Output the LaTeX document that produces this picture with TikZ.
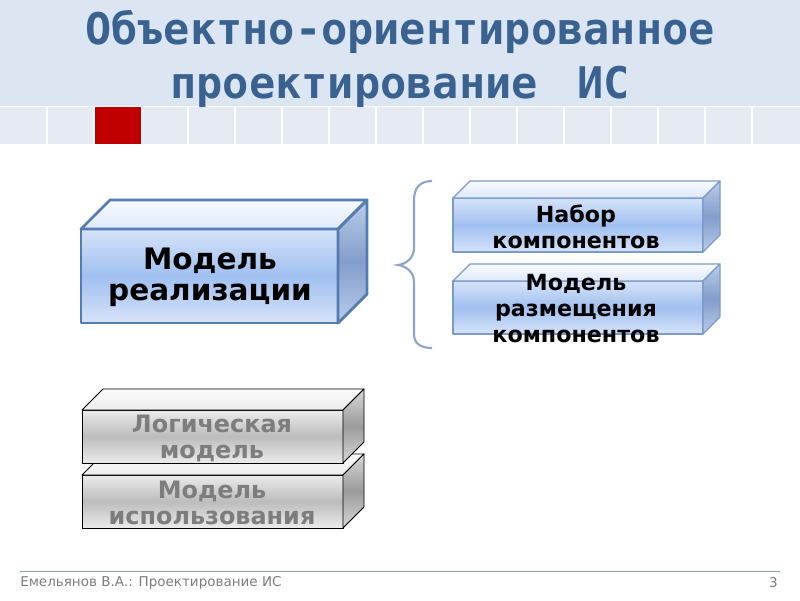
\documentclass[tikz,border=0pt]{standalone}
\usepackage{fontspec}
\setmainfont{DejaVu Sans}
\newfontfamily\zagfont{DejaVu Sans Mono}
\usetikzlibrary{positioning}

\definecolor{zagblue}{RGB}{58,98,145}
\definecolor{shapka}{RGB}{220,230,242}
\definecolor{kletka}{RGB}{230,235,243}
\definecolor{krasny}{RGB}{192,0,0}
\definecolor{ramka}{RGB}{84,124,178}
\definecolor{ramkatonk}{RGB}{125,155,200}
\definecolor{skobka}{RGB}{140,165,200}
\definecolor{bl1}{RGB}{214,227,248}
\definecolor{bl2}{RGB}{160,192,240}
\definecolor{blv}{RGB}{248,251,255}
\definecolor{blv2}{RGB}{222,233,250}
\definecolor{blb1}{RGB}{186,204,234}
\definecolor{blb2}{RGB}{130,158,204}
\definecolor{gr1}{RGB}{235,235,235}
\definecolor{gr2}{RGB}{188,188,188}
\definecolor{grv}{RGB}{252,252,252}
\definecolor{grv2}{RGB}{236,236,236}
\definecolor{grb1}{RGB}{215,215,215}
\definecolor{grb2}{RGB}{155,155,155}
\definecolor{sery}{RGB}{125,125,125}
\definecolor{liniya}{RGB}{140,155,170}

\tikzset{
  blue front/.style={draw=ramka, top color=bl1, bottom color=bl1, middle color=bl2},
  blue top/.style={draw=ramka, top color=blv, bottom color=blv2},
  blue side/.style={draw=ramka, top color=blb1, bottom color=blb1, middle color=blb2},
  thin front/.style={blue front, draw=ramkatonk},
  thin top/.style={blue top, draw=ramkatonk},
  thin side/.style={blue side, draw=ramkatonk},
  gray front/.style={draw=black, top color=gr1, bottom color=gr1, middle color=gr2},
  gray top/.style={draw=black, top color=grv, bottom color=grv2},
  gray side/.style={draw=black, top color=grb1, bottom color=grb1, middle color=grb2},
  boxtext/.style={font=\bfseries, align=center, text=black},
}

% kub: scheme, x1, y1, x2, y2, depth, line width
\newcommand{\kub}[7]{
  \draw[#1 front, line width=#7, line join=round] (#2,#3) rectangle (#4,#5);
  \draw[#1 top, line width=#7, line join=round] (#2,#3) -- (#2+#6,#3-#6) -- (#4+#6,#3-#6) -- (#4,#3) -- cycle;
  \draw[#1 side, line width=#7, line join=round] (#4,#3) -- (#4+#6,#3-#6) -- (#4+#6,#5-#6) -- (#4,#5) -- cycle;
}

\begin{document}
\begin{tikzpicture}[x=0.025cm, y=-0.025cm]
\useasboundingbox (0,0) rectangle (800,600);
\fill[white] (0,0) rectangle (800,600);

% shapka
\fill[shapka] (0,0) rectangle (800,106);
\fill[kletka] (0,107) rectangle (800,144);
\foreach \i in {1,...,16}
  \draw[white, line width=1.2pt] (47*\i,107) -- (47*\i,144);
\fill[krasny] (95,107) rectangle (141,144);
\node[font=\zagfont\bfseries\fontsize{31}{38}\selectfont, text=zagblue, align=center] (zag) at (400,59)
  {Объектно-ориентированное\\проектирование\hspace{0.3em} ИС};

% model realizacii
\kub{blue}{81}{229}{338}{323}{29}{2pt}
\node[boxtext, font=\bfseries\fontsize{21}{22}\selectfont] (realiz) at (210,277) {Модель\\реализации};

% skobka
\draw[skobka, line width=1.5pt] (432,181) .. controls (420,181) and (414,188) .. (414,200) -- (414,248)
  .. controls (414,258) and (406,264) .. (398,265) .. controls (406,266) and (414,272) .. (414,282)
  -- (414,334) .. controls (414,343) and (420,348) .. (432,348);

% pravye
\kub{thin}{453}{198}{703}{252}{17}{0.8pt}
\node[boxtext, font=\bfseries\fontsize{15.8}{18.5}\selectfont] (nabor) at (576,227) {Набор\\компонентов};
\kub{thin}{453}{281}{703}{334}{17}{0.8pt}
\node[boxtext, font=\bfseries\fontsize{15.8}{18.5}\selectfont] (razm) at (576,309) {Модель\\размещения\\компонентов};

% serye
\kub{gray}{82}{475}{343}{528}{21}{0.6pt}
\kub{gray}{82}{410}{343}{463}{21}{0.6pt}
\node[boxtext, text=sery, font=\bfseries\fontsize{17}{18.5}\selectfont] (logich) at (212,438) {Логическая\\модель};
\node[boxtext, text=sery, font=\bfseries\fontsize{17}{18.5}\selectfont] (ispolz) at (212,503) {Модель\\использования};

% podval
\draw[liniya, line width=0.7pt] (20,571) -- (780,571);
\node[anchor=west, text=sery, font=\fontsize{9.6}{11}\selectfont, inner sep=0pt] (avtor) at (20,583) {Емельянов В.А.: Проектирование ИС};
\node[anchor=east, text=sery, font=\fontsize{9.6}{11}\selectfont, inner sep=0pt] (nomer) at (778,583) {3};
\end{tikzpicture}
\end{document}
